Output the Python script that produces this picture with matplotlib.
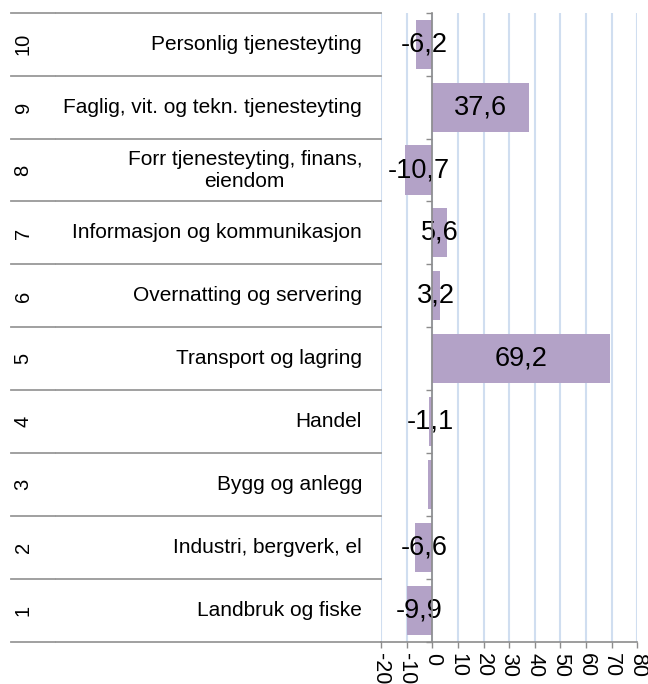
import matplotlib
matplotlib.use('Agg')
import matplotlib.pyplot as plt
import matplotlib.transforms as mtrans

plt.rcParams['font.family'] = ['Liberation Sans', 'DejaVu Sans']

# category numbers and names, bottom to top
numbers = ['1', '2', '3', '4', '5', '6', '7', '8', '9', '10']
names = ['Landbruk og fiske', 'Industri, bergverk, el', 'Bygg og anlegg', 'Handel',
         'Transport og lagring', 'Overnatting og servering', 'Informasjon og kommunikasjon',
         'Forr tjenesteyting, finans,\neiendom', 'Faglig, vit. og tekn. tjenesteyting',
         'Personlig tjenesteyting']
values = [-9.9, -6.6, -1.7, -1.1, 69.2, 3.2, 5.6, -10.7, 37.6, -6.2]
show_label = [True, True, False, True, True, True, True, True, True, True]
xticks = [-20, -10, 0, 10, 20, 30, 40, 50, 60, 70, 80]

W, H = 648, 684
fig = plt.figure(figsize=(W / 100, H / 100), dpi=100)
ax = fig.add_axes([381 / W, 1 - 642 / H, (637.3 - 381) / W, (642 - 12.7) / H])

ypos = list(range(1, len(values) + 1))
ax.barh(ypos, values, height=0.78, color='#b3a2c7', zorder=3)

# data labels centred in the bars
for y, v, s in zip(ypos, values, show_label):
    if s:
        ax.text(v / 2, y, f'{v:.1f}'.replace('.', ','), ha='center', va='center',
                fontsize=19.5, color='black', zorder=4)

ax.set_xlim(-20, 80)
ax.set_ylim(0.5, len(values) + 0.5)
ax.set_xticks(xticks)
ax.set_xticklabels([str(t) for t in xticks], rotation=-90, fontsize=15.5)
ax.grid(axis='x', color='#d0def0', linewidth=1.5, zorder=0)
ax.set_axisbelow(True)

axcol = '#8c8c8c'
ax.spines['top'].set_visible(False)
ax.spines['right'].set_visible(False)
ax.spines['left'].set_position(('data', 0))
ax.spines['left'].set_color(axcol)
ax.spines['left'].set_zorder(5)
ax.spines['bottom'].set_color(axcol)
ax.spines['bottom'].set_linewidth(1.2)
ax.spines['left'].set_linewidth(1.2)
ax.set_yticks([y + 0.5 for y in range(0, len(values) + 1)])
ax.set_yticklabels([])
ax.tick_params(axis='y', direction='out', length=4.5, color=axcol, width=1)
ax.tick_params(axis='x', direction='out', length=4, color=axcol, width=1, pad=4)

# left table with numbers and names
tr = mtrans.blended_transform_factory(fig.transFigure, ax.transData)
for b in range(0, len(values) + 1):
    yb = b + 0.5
    ax.plot([11 / W, 54.5 / W], [yb, yb], transform=tr, color='#999999', lw=1.3, clip_on=False)
    ax.plot([55.5 / W, 381 / W], [yb, yb], transform=tr, color='#999999', lw=1.3, clip_on=False)
for y, n, name in zip(ypos, numbers, names):
    ax.text(23 / W, y, n, transform=tr, rotation=90, ha='center', va='center', fontsize=14.5)
    ax.text(362 / W, y, name, transform=tr, ha='right', va='center', fontsize=15,
            multialignment='center')

fig.savefig('out.png', dpi=100)
